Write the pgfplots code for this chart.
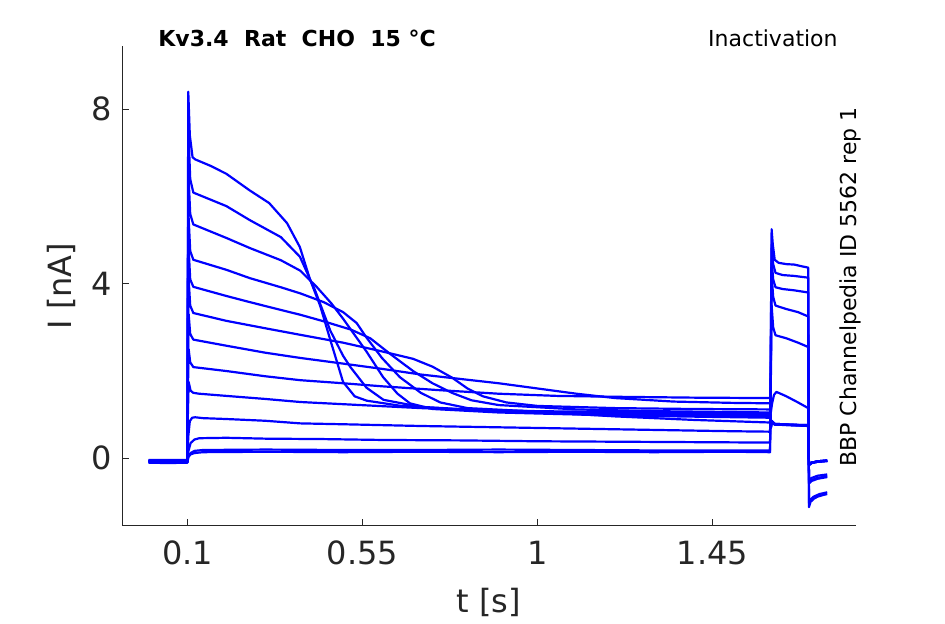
\documentclass[border=0pt]{standalone}
\usepackage{fontspec}
\setmainfont{DejaVu Sans}
\usepackage{pgfplots}
\pgfplotsset{compat=1.18}
\definecolor{ax}{rgb}{0.15,0.15,0.15}
\definecolor{tr}{rgb}{0,0,1}
\pgfplotsset{trace/.style={draw=tr, solid, mark=none, line width=1.1pt, line join=round}}
\begin{document}
\begin{tikzpicture}
\path[use as bounding box] (0,0) rectangle (472.5pt,312pt);
\begin{axis}[
 at={(61pt,49pt)}, anchor=south west,
 width=367pt, height=240pt, scale only axis,
 xmin=-0.0684, xmax=1.819, ymin=-1.552, ymax=9.45,
 axis lines=left, axis line style={-, draw=ax, line width=0.5pt},
 tick align=inside, major tick length=3.5pt, tick style={draw=ax, line width=0.5pt},
 xtick={0.1,0.55,1,1.45}, xticklabels={0.1,0.55,1,1.45},
 ytick={0,4,8}, yticklabels={0,4,8},
 /pgf/number format/assume math mode=true,
 ticklabel style={font=\fontsize{16}{19}\selectfont, text=ax},
 xticklabel style={yshift=-4pt},
 yticklabel style={xshift=-1.5pt},
 xlabel={t [s]}, ylabel={I [nA]},
 label style={font=\fontsize{16}{19}\selectfont, text=ax},
 x label style={at={(axis description cs:0.5,-0.160)}, anchor=center},
 y label style={at={(axis description cs:-0.083,0.5)}, anchor=center},
]
% S0
\addplot[trace] coordinates {(0,-0.06) (0.03,-0.05) (0.06,-0.07) (0.1,-0.06) (0.102,0.03) (0.108,0.09) (0.118,0.12) (0.14,0.14) (0.3,0.15) (0.5,0.14) (0.7,0.15) (0.9,0.14) (1.1,0.15) (1.3,0.14) (1.5,0.15) (1.598,0.14) (1.600,2.8) (1.602,5.25) (1.605,4.9) (1.610,4.55) (1.62,4.48) (1.64,4.45) (1.66,4.44) (1.68,4.40) (1.696,4.37) (1.698,-1.12) (1.702,-1.0) (1.71,-0.93) (1.72,-0.88) (1.735,-0.84) (1.745,-0.82)};
% S1
\addplot[trace] coordinates {(0,-0.1) (0.05,-0.11) (0.1,-0.1) (0.102,0.02) (0.108,0.12) (0.118,0.17) (0.14,0.19) (0.3,0.2) (0.5,0.19) (0.7,0.19) (0.9,0.2) (1.1,0.19) (1.3,0.18) (1.5,0.18) (1.598,0.18) (1.6,2.6) (1.602,4.9) (1.606,4.45) (1.612,4.25) (1.63,4.2) (1.66,4.18) (1.696,4.14) (1.698,-1.03) (1.702,-0.95) (1.71,-0.88) (1.725,-0.82) (1.745,-0.78)};
% S2
\addplot[trace] coordinates {(0,-0.04) (0.1,-0.04) (0.102,0.15) (0.108,0.35) (0.118,0.43) (0.13,0.46) (0.2,0.47) (0.3,0.45) (0.45,0.44) (0.6,0.42) (0.8,0.41) (1.0,0.39) (1.2,0.38) (1.4,0.37) (1.598,0.36) (1.6,2.2) (1.602,4.55) (1.606,4.1) (1.612,3.92) (1.63,3.88) (1.66,3.85) (1.696,3.80) (1.698,-0.58) (1.705,-0.52) (1.72,-0.47) (1.745,-0.43)};
% S3
\addplot[trace] coordinates {(0,-0.08) (0.1,-0.08) (0.102,0.5) (0.106,0.85) (0.112,0.93) (0.12,0.94) (0.14,0.92) (0.2,0.9) (0.3,0.86) (0.39,0.8) (0.5,0.78) (0.7,0.74) (0.9,0.71) (1.1,0.68) (1.3,0.65) (1.5,0.62) (1.598,0.61) (1.6,2.1) (1.602,4.2) (1.606,3.7) (1.612,3.5) (1.64,3.42) (1.67,3.35) (1.696,3.25) (1.698,-0.55) (1.705,-0.5) (1.72,-0.45) (1.745,-0.41)};
% S4
\addplot[trace] coordinates {(0,-0.05) (0.1,-0.05) (0.101,1.0) (0.103,1.75) (0.108,1.55) (0.115,1.5) (0.13,1.48) (0.2,1.43) (0.3,1.36) (0.39,1.29) (0.5,1.24) (0.7,1.15) (0.9,1.08) (1.03,1.05) (1.2,0.96) (1.4,0.88) (1.598,0.82) (1.6,1.8) (1.602,3.5) (1.606,3.0) (1.612,2.82) (1.64,2.75) (1.67,2.65) (1.696,2.55) (1.698,-0.5) (1.705,-0.45) (1.72,-0.4) (1.745,-0.37)};
% S5
\addplot[trace] coordinates {(0,-0.09) (0.1,-0.09) (0.101,1.5) (0.103,2.5) (0.107,2.2) (0.115,2.09) (0.2,2.0) (0.3,1.88) (0.39,1.79) (0.5,1.72) (0.6,1.65) (0.75,1.56) (0.9,1.48) (1.05,1.43) (1.2,1.41) (1.4,1.39) (1.598,1.38) (1.6,1.05) (1.603,1.25) (1.608,1.45) (1.614,1.52) (1.62,1.5) (1.64,1.42) (1.67,1.28) (1.696,1.15) (1.698,-0.15) (1.705,-0.1) (1.72,-0.07) (1.745,-0.05)};
% S6
\addplot[trace] coordinates {(0,-0.07) (0.1,-0.07) (0.101,2.0) (0.103,3.3) (0.107,2.85) (0.115,2.72) (0.2,2.58) (0.3,2.42) (0.39,2.3) (0.5,2.17) (0.6,2.05) (0.7,1.92) (0.8,1.82) (0.9,1.72) (1.0,1.6) (1.1,1.48) (1.2,1.38) (1.35,1.30) (1.5,1.27) (1.598,1.26) (1.6,0.7) (1.602,0.86) (1.61,0.79) (1.65,0.77) (1.696,0.76) (1.698,-0.15) (1.705,-0.1) (1.72,-0.08) (1.745,-0.06)};
% S7
\addplot[trace] coordinates {(0,-0.06) (0.1,-0.06) (0.101,2.5) (0.103,4.1) (0.107,3.5) (0.115,3.33) (0.2,3.15) (0.3,2.98) (0.39,2.83) (0.5,2.65) (0.6,2.45) (0.68,2.28) (0.73,2.1) (0.78,1.85) (0.82,1.6) (0.86,1.42) (0.92,1.28) (1.0,1.2) (1.2,1.15) (1.4,1.13) (1.598,1.12) (1.6,0.72) (1.602,0.85) (1.61,0.78) (1.65,0.76) (1.696,0.75) (1.698,-0.14) (1.705,-0.1) (1.72,-0.07) (1.745,-0.05)};
% S8
\addplot[trace] coordinates {(0,-0.08) (0.1,-0.08) (0.101,3.0) (0.103,4.8) (0.107,4.1) (0.115,3.93) (0.2,3.72) (0.26,3.58) (0.34,3.4) (0.39,3.29) (0.45,3.14) (0.52,2.95) (0.57,2.75) (0.62,2.4) (0.68,2.0) (0.73,1.72) (0.78,1.5) (0.83,1.33) (0.9,1.22) (1.1,1.12) (1.3,1.08) (1.598,1.05) (1.6,0.7) (1.602,0.84) (1.61,0.78) (1.65,0.77) (1.696,0.75) (1.698,-0.16) (1.705,-0.11) (1.72,-0.08) (1.745,-0.06)};
% S9
\addplot[trace] coordinates {(0,-0.05) (0.1,-0.05) (0.101,3.5) (0.103,5.5) (0.107,4.75) (0.115,4.55) (0.2,4.32) (0.26,4.13) (0.34,3.92) (0.39,3.78) (0.45,3.58) (0.5,3.35) (0.535,3.1) (0.56,2.77) (0.6,2.3) (0.646,1.86) (0.70,1.5) (0.75,1.28) (0.82,1.15) (1.0,1.07) (1.3,1.02) (1.598,0.99) (1.6,0.7) (1.602,0.83) (1.61,0.77) (1.65,0.76) (1.696,0.74) (1.698,-0.15) (1.705,-0.1) (1.72,-0.07) (1.745,-0.05)};
% S10
\addplot[trace] coordinates {(0,-0.07) (0.1,-0.07) (0.101,4.0) (0.103,6.4) (0.107,5.6) (0.115,5.36) (0.2,5.05) (0.26,4.82) (0.34,4.54) (0.39,4.3) (0.433,3.92) (0.47,3.55) (0.5,3.2) (0.52,2.95) (0.56,2.45) (0.603,1.86) (0.64,1.48) (0.672,1.26) (0.73,1.13) (0.9,1.05) (1.2,0.98) (1.598,0.93) (1.6,0.7) (1.602,0.84) (1.61,0.78) (1.65,0.76) (1.696,0.75) (1.698,-0.14) (1.705,-0.1) (1.72,-0.07) (1.745,-0.05)};
% S11
\addplot[trace] coordinates {(0,-0.09) (0.1,-0.09) (0.101,4.5) (0.103,7.36) (0.107,6.4) (0.115,6.09) (0.2,5.78) (0.26,5.46) (0.34,5.07) (0.389,4.62) (0.428,3.85) (0.467,2.93) (0.5,2.35) (0.519,2.09) (0.56,1.62) (0.604,1.34) (0.698,1.18) (0.9,1.08) (1.2,1.0) (1.598,0.95) (1.6,0.7) (1.602,0.85) (1.61,0.78) (1.65,0.77) (1.696,0.75) (1.698,-0.15) (1.705,-0.1) (1.72,-0.08) (1.745,-0.06)};
% S12
\addplot[trace] coordinates {(0,-0.06) (0.1,-0.06) (0.101,5.0) (0.102,8.4) (0.106,7.4) (0.113,6.9) (0.12,6.85) (0.16,6.7) (0.2,6.52) (0.26,6.14) (0.31,5.85) (0.356,5.39) (0.389,4.84) (0.415,4.1) (0.441,3.5) (0.467,2.72) (0.5,1.75) (0.53,1.42) (0.561,1.32) (0.65,1.2) (0.8,1.12) (1.0,1.08) (1.3,1.05) (1.598,1.03) (1.6,0.72) (1.602,0.86) (1.61,0.79) (1.65,0.77) (1.696,0.76) (1.698,-0.15) (1.705,-0.1) (1.72,-0.08) (1.745,-0.06)};
\end{axis}
\node[font=\bfseries\fontsize{11}{13}\selectfont, anchor=west, inner sep=0] at (79pt,292.6pt) {Kv3.4\ \ Rat\ \ CHO\ \ 15 °C};
\node[font=\fontsize{11}{13}\selectfont, anchor=east, inner sep=0] at (419pt,293pt) {Inactivation};
\node[font=\fontsize{11}{13}\selectfont, rotate=90, inner sep=0] at (425pt,168.5pt) {BBP Channelpedia ID 5562 rep 1};
\end{tikzpicture}
\end{document}
